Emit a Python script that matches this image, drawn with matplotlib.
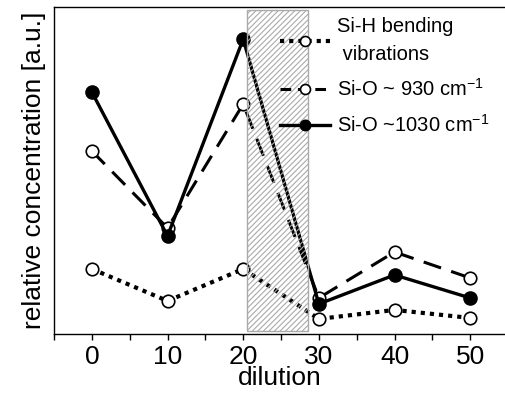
import numpy as np
import matplotlib.pyplot as plt

plt.rcParams['font.family'] = ['Liberation Sans', 'DejaVu Sans']
plt.rcParams['mathtext.fontset'] = 'custom'
plt.rcParams['mathtext.rm'] = 'Liberation Sans'
plt.rcParams['hatch.color'] = '#aaaaaa'
plt.rcParams['hatch.linewidth'] = 0.8

dilution = [0, 10, 20, 30, 40, 50]
si_h = [0.65, 0.33, 0.65, 0.15, 0.24, 0.16]
si_o_930 = [1.83, 1.06, 2.30, 0.36, 0.82, 0.56]
si_o_1030 = [2.42, 0.98, 2.95, 0.30, 0.59, 0.36]
span = (20.5, 28.5)

fig = plt.figure(figsize=(5.05, 3.98), dpi=100)
ax = fig.add_axes([0.107, 0.161, 0.893, 0.821])

ax.plot(dilution, si_h, linestyle=(0, (1, 1.2)), lw=3, color='black',
        marker='o', ms=9, mfc='white', mec='black', mew=1.2,
        label='Si-H bending\n vibrations')
ax.plot(dilution, si_o_930, linestyle=(0, (6, 3.5)), lw=2.2, color='black',
        marker='o', ms=9, mfc='white', mec='black', mew=1.2,
        label='Si-O ~ 930 cm$^{\\mathrm{-1}}$')
ax.plot(dilution, si_o_1030, linestyle='-', lw=2.4, color='black',
        marker='o', ms=9.5, mfc='black', mec='black',
        label='Si-O ~1030 cm$^{\\mathrm{-1}}$')

ax.axvspan(span[0], span[1], ymin=0.01, ymax=0.99, facecolor='none',
           edgecolor='#aaaaaa', hatch='//////', lw=1, zorder=5)

ax.set_xlim(-5, 54.6)
ax.set_ylim(0, 3.27)
ax.set_xticks([0, 10, 20, 30, 40, 50])
ax.set_xticks(np.arange(-5, 55, 5), minor=True)
ax.set_yticks([])
ax.tick_params(axis='x', which='both', direction='out', length=4, width=1,
               labelsize=19, pad=4)
ax.spines['right'].set_visible(False)
for s in ['left', 'top', 'bottom']:
    ax.spines[s].set_linewidth(1)

ax.set_xlabel('dilution', fontsize=19, labelpad=-2)
ax.set_ylabel('relative concentration [a.u.]', fontsize=19, labelpad=6)

leg = ax.legend(loc='upper left', frameon=False, fontsize=14.5,
                handlelength=2.5, handletextpad=0.35, labelspacing=0.7,
                markerscale=0.8, numpoints=1, borderpad=0, borderaxespad=0,
                bbox_to_anchor=(0.50, 0.97))
leg.get_texts()[0].set_linespacing(1.6)
for h in leg.get_lines()[1:2]:
    h.set_dashes((3.5, 2.2))

fig.savefig('out.png', dpi=100)
